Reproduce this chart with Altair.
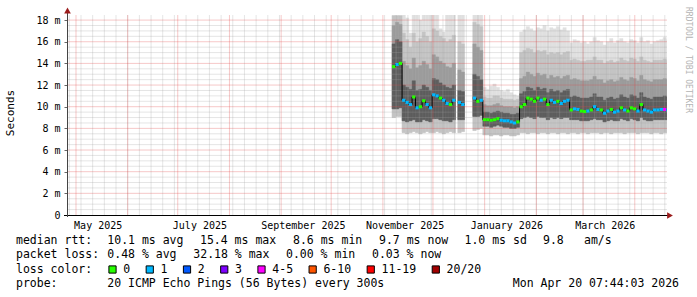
import altair as alt
import pandas as pd

# ------------------------------------------------------------------ data
bin_start = [
    "2025-11-06T12:00", "2025-11-08T12:00", "2025-11-10T12:00",
    "2025-11-12T12:00", "2025-11-14T12:00", "2025-11-16T12:00", "2025-11-18T12:00",
    "2025-11-20T12:00", "2025-11-22T12:00", "2025-11-24T12:00", "2025-11-26T12:00",
    "2025-11-28T12:00", "2025-11-30T12:00", "2025-12-02T12:00", "2025-12-04T12:00",
    "2025-12-06T12:00", "2025-12-08T12:00", "2025-12-10T12:00", "2025-12-12T12:00",
    "2025-12-15T22:00", "2025-12-17T22:00",
    "2025-12-24T22:00", "2025-12-26T22:00", "2025-12-28T22:00",
    "2025-12-30T22:00", "2026-01-01T22:00", "2026-01-03T22:00", "2026-01-05T22:00",
    "2026-01-07T22:00", "2026-01-09T22:00", "2026-01-11T22:00", "2026-01-13T22:00",
    "2026-01-15T22:00", "2026-01-17T22:00", "2026-01-19T22:00",
    "2026-01-21T22:00", "2026-01-23T22:00", "2026-01-25T22:00", "2026-01-27T22:00",
    "2026-01-29T22:00", "2026-01-31T22:00", "2026-02-02T22:00", "2026-02-04T22:00",
    "2026-02-06T22:00", "2026-02-08T22:00", "2026-02-10T22:00", "2026-02-12T22:00",
    "2026-02-14T22:00", "2026-02-16T22:00", "2026-02-18T22:00",
    "2026-02-20T22:00", "2026-02-22T22:00", "2026-02-24T22:00", "2026-02-26T22:00",
    "2026-02-28T22:00", "2026-03-02T22:00", "2026-03-04T22:00", "2026-03-06T22:00",
    "2026-03-08T22:00", "2026-03-10T22:00", "2026-03-12T22:00", "2026-03-14T22:00",
    "2026-03-16T22:00", "2026-03-18T22:00", "2026-03-20T22:00", "2026-03-22T22:00",
    "2026-03-24T22:00", "2026-03-26T22:00", "2026-03-28T22:00", "2026-03-30T22:00",
    "2026-04-01T22:00", "2026-04-03T22:00", "2026-04-05T22:00", "2026-04-07T22:00",
    "2026-04-09T22:00", "2026-04-11T22:00", "2026-04-13T22:00", "2026-04-15T22:00",
    "2026-04-17T22:00", "2026-04-19T22:00",
]

median_ms = [
    13.7, 13.9, 14.0,
    10.6, 10.4, 10.2, 10.9, 9.9, 10.0, 10.55, 10.2, 9.9, 11.1, 11.0, 10.8, 10.6, 10.3, 10.2, 10.6,
    10.4, 10.2,
    10.8, 10.5, 10.6,
    8.8, 8.8, 8.75, 8.8, 8.9, 8.75, 8.7, 8.7, 8.6, 8.5, 8.6,
    10.0, 10.2, 10.8, 10.7, 10.5, 10.8, 10.6, 10.7, 10.2, 10.6, 10.4, 10.5, 10.3, 10.5, 10.6,
    9.7, 9.8, 9.75, 9.6, 9.55, 9.6, 9.7, 10.0, 9.75, 9.7, 9.4, 9.6, 9.75, 9.5, 9.6,
    9.9, 9.7, 9.6, 9.9, 9.8, 9.6, 10.2, 9.7, 9.6, 9.5, 9.7, 9.7, 9.75, 9.75, 9.7,
]

loss_label = [
    "0", "1", "0",
    "1", "1", "1", "0", "1", "0", "0", "1", "1", "1", "1", "0", "1", "1", "0", "1",
    "1", "1",
    "1", "0", "1",
    "0", "0", "0", "0", "0", "1", "1", "1", "1", "1", "0",
    "0", "0", "0", "0", "0", "0", "1", "0", "0", "1", "1", "0", "1", "1", "1",
    "0", "1", "1", "0", "0", "1", "0", "1", "1", "0", "1", "1", "0", "1", "1",
    "0", "1", "0", "0", "0", "1", "0", "1", "1", "1", "1", "1", "1", "4-5", "1",
]

smoke_lo = [
    9.0, 9.1, 9.1,
    7.6, 7.5, 7.6, 7.7, 7.6, 7.5, 7.6, 7.7, 7.6, 7.6, 7.7, 7.6, 7.5, 7.6, 7.7, 7.6,
    7.6, 7.7,
    7.8, 7.9, 8.0,
    7.4, 7.4, 7.3, 7.4, 7.4, 7.3, 7.4, 7.4, 7.3, 7.3, 7.4,
    7.6, 7.6, 7.5, 7.6, 7.6, 7.5, 7.6, 7.6, 7.5, 7.6, 7.6, 7.5, 7.6, 7.6, 7.5,
    7.6, 7.6, 7.5, 7.6, 7.6, 7.5, 7.6, 7.6, 7.6, 7.5, 7.6, 7.6, 7.5, 7.6, 7.6,
    7.6, 7.5, 7.6, 7.6, 7.6, 7.5, 7.6, 7.6, 7.6, 7.5, 7.6, 7.6, 7.5, 7.6, 7.6,
]
smoke_l1 = [
    9.8, 9.8, 9.9,
    8.7, 8.6, 8.7, 8.8, 8.6, 8.6, 8.8, 8.7, 8.6, 8.9, 8.9, 8.8, 8.7, 8.7, 8.6, 8.8,
    8.8, 8.8,
    9.1, 9.1, 9.2,
    8.2, 8.2, 8.1, 8.2, 8.3, 8.2, 8.1, 8.1, 8.0, 8.0, 8.1,
    8.9, 9.0, 9.1, 9.0, 8.9, 9.1, 9.0, 9.0, 8.8, 9.0, 8.9, 9.0, 8.9, 9.0, 9.0,
    8.8, 8.8, 8.8, 8.7, 8.7, 8.7, 8.8, 8.9, 8.8, 8.8, 8.6, 8.7, 8.8, 8.7, 8.7,
    8.9, 8.8, 8.7, 8.9, 8.8, 8.7, 9.0, 8.8, 8.7, 8.7, 8.8, 8.8, 8.8, 8.8, 8.8,
]
smoke_u1 = [
    15.8, 16.2, 16.0,
    12.0, 11.8, 11.6, 12.4, 11.5, 11.6, 12.0, 11.8, 11.5, 12.6, 12.5, 12.2, 12.0, 11.8, 11.7, 12.0,
    11.5, 11.4,
    13.0, 12.8, 12.5,
    9.5, 9.5, 9.4, 9.5, 9.6, 9.5, 9.4, 9.4, 9.3, 9.3, 9.4,
    11.2, 11.4, 11.8, 11.7, 11.5, 11.8, 11.6, 11.7, 11.3, 11.6, 11.4, 11.5, 11.3, 11.5, 11.6,
    10.9, 11.0, 10.9, 10.8, 10.8, 10.8, 10.9, 11.2, 10.9, 10.9, 10.6, 10.8, 10.9, 10.7, 10.8,
    11.1, 10.9, 10.8, 11.1, 11.0, 10.8, 11.3, 10.9, 10.8, 10.7, 10.9, 10.9, 10.9, 11.0, 10.9,
]
smoke_u2 = [
    17.5, 17.8, 17.6,
    14.2, 13.8, 13.5, 14.5, 13.6, 13.8, 14.2, 13.9, 13.5, 14.8, 14.6, 14.2, 14.0, 13.7, 13.6, 14.0,
    13.4, 13.2,
    15.8, 15.5, 15.2,
    10.2, 10.1, 10.1, 10.2, 10.3, 10.1, 10.0, 10.0, 10.0, 9.9, 10.0,
    12.6, 12.8, 13.2, 13.0, 12.8, 13.1, 12.9, 13.0, 12.6, 12.9, 12.7, 12.8, 12.6, 12.8, 12.9,
    12.5, 12.6, 12.5, 12.4, 12.4, 12.4, 12.5, 12.8, 12.5, 12.5, 12.2, 12.4, 12.5, 12.3, 12.4,
    12.7, 12.5, 12.4, 12.7, 12.6, 12.4, 12.9, 12.5, 12.4, 12.3, 12.5, 12.5, 12.5, 12.6, 12.5,
]
smoke_u3 = [
    18.4, 18.4, 18.4,
    16.8, 16.2, 15.5, 16.8, 16.0, 16.3, 16.9, 16.5, 16.0, 17.2, 17.0, 16.5, 16.3, 16.0, 16.2, 16.6,
    16.0, 15.8,
    17.8, 17.6, 17.4,
    10.9, 10.8, 10.8, 11.0, 11.0, 10.8, 10.7, 10.7, 10.7, 10.6, 10.7,
    15.0, 15.2, 15.4, 15.3, 15.0, 15.2, 15.1, 15.2, 14.8, 15.0, 14.9, 15.0, 14.8, 15.0, 15.1,
    14.3, 14.4, 14.3, 14.2, 14.2, 14.3, 14.3, 14.6, 14.3, 14.3, 14.0, 14.2, 14.3, 14.1, 14.2,
    14.5, 14.3, 14.2, 14.5, 14.4, 14.2, 14.6, 14.3, 14.2, 14.1, 14.3, 14.3, 14.3, 14.4, 14.3,
]
smoke_hi = [
    19.0, 19.0, 19.0,
    19.0, 18.2, 16.8, 19.0, 19.0, 18.0, 19.0, 19.0, 18.5, 19.0, 19.0, 17.2, 16.9, 19.0, 19.0, 19.0,
    19.0, 19.0,
    19.0, 19.0, 19.0,
    11.8, 11.6, 11.9, 12.1, 11.8, 11.5, 11.4, 11.6, 11.3, 11.1, 11.0,
    16.9, 17.1, 17.4, 17.2, 17.0, 17.3, 17.2, 17.5, 17.0, 17.3, 17.2, 17.4, 17.1, 17.3, 17.0,
    15.9, 16.2, 16.1, 15.9, 16.0, 15.8, 16.0, 16.4, 16.1, 16.0, 15.7, 16.0, 16.3, 15.9, 16.1,
    16.3, 16.0, 15.9, 16.2, 16.1, 15.9, 16.4, 16.0, 16.1, 15.8, 16.0, 16.1, 16.2, 16.4, 16.2,
]

loss_legend = ["0", "1", "2", "3", "4-5", "6-10", "11-19", "20/20"]
loss_colors = ["#26ff00", "#00b8ff", "#0059ff", "#7e00ff", "#ff00ff", "#ff5500", "#ff0000", "#a10000"]

y_tick_values = [0, 2, 4, 6, 8, 10, 12, 14, 16, 18]
x_label_months = [(2025, 5), (2025, 7), (2025, 9), (2025, 11), (2026, 1), (2026, 3)]

stats_rtt = ["median rtt:", "10.1 ms avg", "15.4 ms max", "8.6 ms min", "9.7 ms now",
             "1.0 ms sd", "9.8", "am/s"]
stats_loss = ["packet loss:", "0.48 % avg", "32.18 % max", "0.00 % min", "0.03 % now"]
probe_text = ["probe:", "20 ICMP Echo Pings (56 Bytes) every 300s"]
stamp_text = "Mon Apr 20 07:44:03 2026"
watermark = "RRDTOOL / TOBI OETIKER"

# ------------------------------------------------------------------ layout
W, H = 600, 200
LEFT, TOP = 67, 15
MONO = "DejaVu Sans Mono"
NB = "\u00a0"

df = pd.DataFrame({
    "start": pd.to_datetime(bin_start), "med": median_ms, "loss": loss_label,
    "lo": smoke_lo, "l1": smoke_l1, "u1": smoke_u1, "u2": smoke_u2,
    "u3": smoke_u3, "hi": smoke_hi,
})
df["end"] = df["start"] + pd.Timedelta(days=2)
df["seg"] = (df["start"] != df["end"].shift()).cumsum()
fmt = "%Y-%m-%dT%H:%M:%S"
df["start_s"] = df["start"].dt.strftime(fmt)
df["end_s"] = df["end"].dt.strftime(fmt)
df = df.drop(columns=["start", "end"])

line_rows = []
for i, r in df.iterrows():
    line_rows.append({"t": r["start_s"], "med": r["med"], "seg": int(r["seg"]), "o": 2 * i})
    line_rows.append({"t": r["end_s"], "med": r["med"], "seg": int(r["seg"]), "o": 2 * i + 1})
line_df = pd.DataFrame(line_rows)

xscale = alt.Scale(domain=[alt.DateTime(year=2025, month=4, date=25, hours=14, minutes=40),
                           alt.DateTime(year=2026, month=4, date=20, hours=7, minutes=44)])
yscale = alt.Scale(domain=[0, 18.47], nice=False, zero=False)

x_axis = alt.Axis(
    values=[alt.DateTime(year=y, month=m, date=14) for y, m in x_label_months],
    labelExpr="timeFormat(datum.value, '%B %Y')",
    grid=False, domain=False, ticks=False, labelPadding=5,
    labelFont=MONO, labelFontSize=10, labelColor="#000000",
    labelFlush=False, labelOverlap=False, title=None)
y_axis = alt.Axis(
    values=y_tick_values,
    labelExpr=f"datum.value == 0 ? '0{NB}{NB}' : datum.value + '{NB}m'",
    grid=False, domain=False, ticks=True, tickSize=3, tickColor="#666666",
    labelPadding=4, labelFont=MONO, labelFontSize=10, labelColor="#000000", title=None)


def X(field):
    return alt.X(field, scale=xscale, axis=x_axis)


def Y(field):
    return alt.Y(field, scale=yscale, axis=y_axis)


base = alt.Chart(df)


def band(lo_col, hi_col, color):
    return base.mark_rect(color=color, stroke=color, strokeWidth=0.4, clip=True).encode(
        x=X("start_s:T"), x2="end_s:T", y=Y(f"{lo_col}:Q"), y2=f"{hi_col}:Q")


layers = [
    band("lo", "hi", "#e0e0e0"),
    band("lo", "u3", "#c4c4c4"),
    band("l1", "u2", "#9c9c9c"),
    band("l1", "u1", "#5e5e5e"),
]

# grid (dotted in the original; drawn as thin translucent lines)
minor_y = [k / 2 for k in range(1, 37) if k % 4 != 0]
major_y = [v for v in y_tick_values if v > 0]
months = pd.date_range("2025-05-01", "2026-04-01", freq="MS").strftime(fmt)
weeks = pd.date_range("2025-04-27", "2026-04-19", freq="W-SUN").strftime(fmt)

layers.append(alt.Chart(pd.DataFrame({"y": minor_y})).mark_rule(
    color="#a0a0a0", strokeWidth=1, opacity=0.28).encode(
    y=Y("y:Q"), x=alt.value(0), x2=alt.value(W)))
layers.append(alt.Chart(pd.DataFrame({"t": list(weeks)})).mark_rule(
    color="#a0a0a0", strokeWidth=1, opacity=0.28).encode(
    x=X("t:T"), y=alt.value(0), y2=alt.value(H)))
layers.append(alt.Chart(pd.DataFrame({"ym": major_y})).mark_rule(
    color="#e04848", strokeWidth=1, opacity=0.3).encode(
    y=Y("ym:Q"), x=alt.value(0), x2=alt.value(W)))
layers.append(alt.Chart(pd.DataFrame({"tm": list(months)})).mark_rule(
    color="#e04848", strokeWidth=1, opacity=0.3).encode(
    x=X("tm:T"), y=alt.value(0), y2=alt.value(H)))

# median
layers.append(alt.Chart(line_df).mark_line(color="#000000", strokeWidth=1, clip=True).encode(
    x=X("t:T"), y=Y("med:Q"), detail="seg:N", order="o:Q"))
layers.append(base.mark_rule(strokeWidth=3, clip=True).encode(
    x=X("start_s:T"), x2="end_s:T", y=Y("med:Q"),
    color=alt.Color("loss:N", scale=alt.Scale(domain=loss_legend, range=loss_colors), legend=None)))

# axis lines and arrows
dummy = pd.DataFrame({"k": [0]})
layers.append(alt.Chart(dummy).mark_rule(color="#000000", strokeWidth=1).encode(
    x=alt.value(-3), x2=alt.value(W + 3), y=alt.value(H + 0.5)))
layers.append(alt.Chart(dummy).mark_rule(color="#444444", strokeWidth=1).encode(
    x=alt.value(0.5), y=alt.value(-3), y2=alt.value(H + 2)))
layers.append(alt.Chart(dummy).mark_point(shape="triangle-up", filled=True, size=45,
                                          color="#9b1c1c", opacity=1).encode(
    x=alt.value(0.5), y=alt.value(-4.5)))
layers.append(alt.Chart(dummy).mark_point(shape="triangle-right", filled=True, size=45,
                                          color="#9b1c1c", opacity=1).encode(
    x=alt.value(W + 3), y=alt.value(H + 0.5)))


def text_at(s, x_abs, y_abs, size=11.5, align="left", angle=0, color="#000000"):
    props = dict(font=MONO, fontSize=size, align=align, baseline="middle", color=color)
    if angle:
        props["angle"] = angle
    return alt.Chart(pd.DataFrame({"s": [s]})).mark_text(**props).encode(
        text="s:N", x=alt.value(x_abs - LEFT), y=alt.value(y_abs - TOP))


# y title and watermark
layers.append(text_at("Seconds", 11, 113, size=11, align="center", angle=270))
layers.append(text_at(watermark, 688, 60, size=8, align="center", angle=90, color="#b4b4b4"))

# statistics legend
CW = 6.95  # advance of one monospace character at the legend size
y1, y2, y3, y4 = 241.3, 255.4, 269.5, 283.6
rtt_x = [16, 107.3, 200, 293, 379, 464.5, 543, 584]
for s, xx in zip(stats_rtt, rtt_x):
    layers.append(text_at(s, xx, y1))
loss_x = [16, 107.3, 193.3, 286, 372]
for s, xx in zip(stats_loss, loss_x):
    layers.append(text_at(s, xx, y2))
layers.append(text_at("loss color:", 16, y3))
bx = 108.3
for lab, col in zip(loss_legend, loss_colors):
    layers.append(alt.Chart(dummy).mark_square(size=52, color=col, stroke="#000000",
                                               strokeWidth=1, opacity=1).encode(
        x=alt.value(bx + 4.2 - LEFT), y=alt.value(y3 - TOP)))
    layers.append(text_at(lab, bx + 15, y3))
    bx += 30.3 + CW * len(lab)
layers.append(text_at(probe_text[0], 16, y4))
layers.append(text_at(probe_text[1], 107.3, y4))
layers.append(text_at(stamp_text, 679, y4, align="right"))

chart = alt.layer(*layers).properties(
    width=W, height=H,
    autosize=alt.AutoSizeParams(type="none"),
    padding={"left": LEFT, "top": TOP, "right": 697 - LEFT - W, "bottom": 297 - TOP - H},
    background="#ffffff",
).configure_view(stroke=None)

chart.save("out.html", embed_options={"renderer": "svg", "actions": False})
